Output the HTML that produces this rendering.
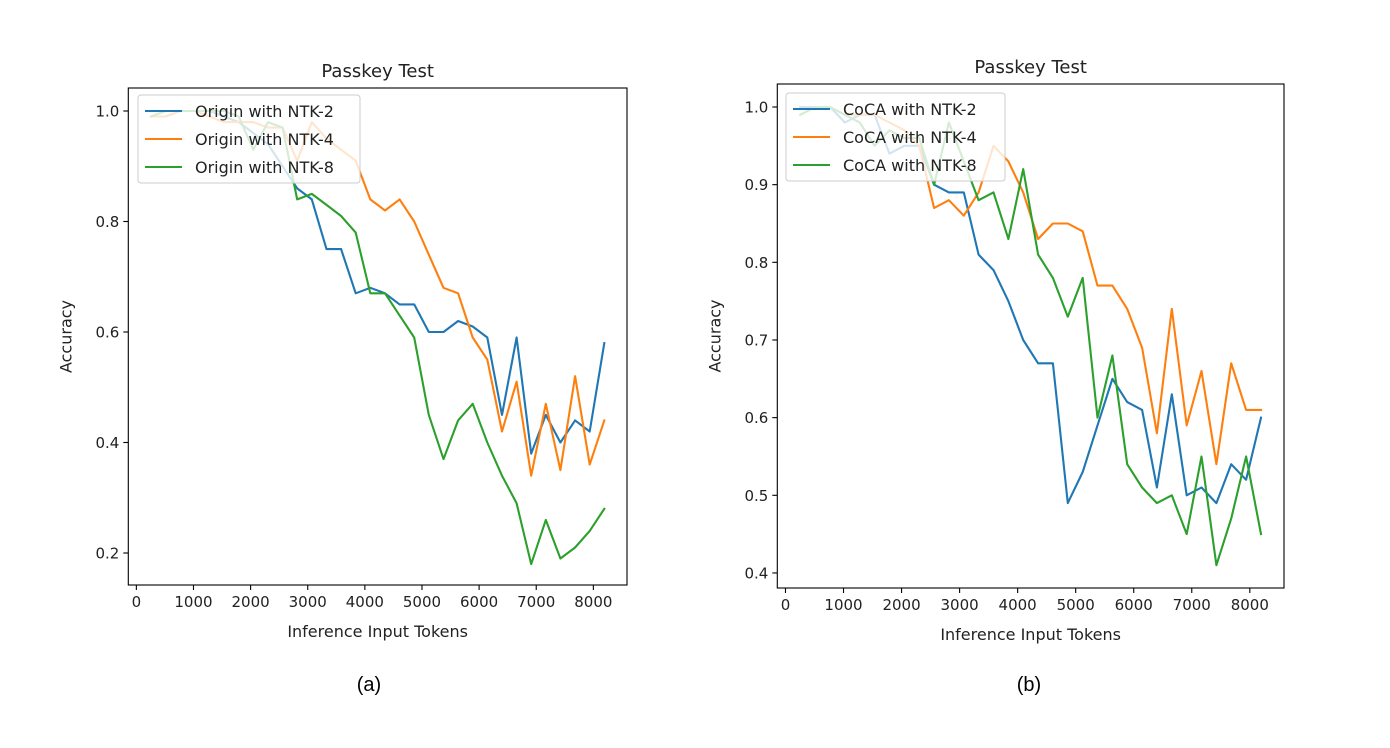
<!DOCTYPE html>
<html><head><meta charset="utf-8"><style>
html,body{margin:0;padding:0;background:#fff;}
svg{display:block;font-family:"DejaVu Sans","Liberation Sans",sans-serif;}
</style></head><body>
<svg id="fig" width="1390" height="748" viewBox="0 0 1390 748" xmlns="http://www.w3.org/2000/svg">
<rect width="1390" height="748" fill="#fff"/>
<text x="369" y="691" font-family="Liberation Sans, sans-serif" font-size="20" text-anchor="middle">(a)</text>
<text x="1029" y="691" font-family="Liberation Sans, sans-serif" font-size="20" text-anchor="middle">(b)</text>
</svg>
<script>
const tokens = [];
for (let k = 1; k <= 32; k++) tokens.push(256 * k);

const originNTK2 = [0.99,0.99,1.0,1.0,1.0,0.99,0.98,0.96,0.94,0.90,0.86,0.84,0.75,0.75,0.67,0.68,0.67,0.65,0.65,0.60,0.60,0.62,0.61,0.59,0.45,0.59,0.38,0.45,0.40,0.44,0.42,0.58];
const originNTK4 = [0.99,0.99,1.0,1.0,0.99,0.98,0.98,0.98,0.97,0.97,0.91,0.98,0.95,0.93,0.91,0.84,0.82,0.84,0.80,0.74,0.68,0.67,0.59,0.55,0.42,0.51,0.34,0.47,0.35,0.52,0.36,0.44];
const originNTK8 = [0.99,1.0,1.0,1.0,1.0,1.0,0.99,0.93,0.98,0.97,0.84,0.85,0.83,0.81,0.78,0.67,0.67,0.63,0.59,0.45,0.37,0.44,0.47,0.40,0.34,0.29,0.18,0.26,0.19,0.21,0.24,0.28];

const cocaNTK2 = [1.0,1.0,1.0,0.98,0.99,0.99,0.94,0.95,0.95,0.90,0.89,0.89,0.81,0.79,0.75,0.70,0.67,0.67,0.49,0.53,0.59,0.65,0.62,0.61,0.51,0.63,0.50,0.51,0.49,0.54,0.52,0.60];
const cocaNTK4 = [0.99,1.0,1.0,0.99,0.99,0.99,0.98,0.97,0.95,0.87,0.88,0.86,0.89,0.95,0.93,0.89,0.83,0.85,0.85,0.84,0.77,0.77,0.74,0.69,0.58,0.74,0.59,0.66,0.54,0.67,0.61,0.61];
const cocaNTK8 = [0.99,1.0,1.0,0.99,0.98,0.95,0.97,0.96,0.96,0.90,0.98,0.93,0.88,0.89,0.83,0.92,0.81,0.78,0.73,0.78,0.60,0.68,0.54,0.51,0.49,0.50,0.45,0.55,0.41,0.47,0.55,0.45];

const xTicks = [0,1000,2000,3000,4000,5000,6000,7000,8000];
const yTicksA = [0.2,0.4,0.6,0.8,1.0];
const yTicksB = [0.4,0.5,0.6,0.7,0.8,0.9,1.0];
const colors = ["#1f77b4","#ff7f0e","#2ca02c"];

const NS = "http://www.w3.org/2000/svg";
const fig = document.getElementById("fig");
function mk(tag, attrs, parent) {
  const e = document.createElementNS(NS, tag);
  for (const k in attrs) e.setAttribute(k, attrs[k]);
  (parent || fig).appendChild(e);
  return e;
}

function drawPanel(cfg) {
  const g = mk("g", {});
  
  
  const xs = v => cfg.left + (v - cfg.xmin) / (cfg.xmax - cfg.xmin) * (cfg.right - cfg.left);
  const ys = v => cfg.bottom - (v - cfg.ymin) / (cfg.ymax - cfg.ymin) * (cfg.bottom - cfg.top);

  // series
  cfg.series.forEach((s, i) => {
    const pts = tokens.map((t, j) => xs(t).toFixed(1) + "," + ys(s.values[j]).toFixed(1)).join(" ");
    const pl = mk("polyline", {points: pts, fill: "none", stroke: colors[i], "stroke-width": 2.1, "stroke-linejoin": "round", "stroke-linecap": "square"}, g);
    
    
  });

  // axes frame
  const fr = mk("rect", {x: cfg.left, y: cfg.top, width: cfg.right - cfg.left, height: cfg.bottom - cfg.top, fill: "none", stroke: "#000", "stroke-width": 1.1}, g);
  
  

  // x ticks
  xTicks.forEach(t => {
    const x = xs(t);
    mk("line", {x1: x, x2: x, y1: cfg.bottom, y2: cfg.bottom + 5, stroke: "#000", "stroke-width": 1.1}, g);
    const tx = mk("text", {x: x, y: cfg.bottom + 22, "font-size": 15, "text-anchor": "middle", fill: "#222"}, g);
    tx.textContent = t;
    
    
  });
  // y ticks
  cfg.yTicks.forEach(t => {
    const y = ys(t);
    mk("line", {x1: cfg.left - 5, x2: cfg.left, y1: y, y2: y, stroke: "#000", "stroke-width": 1.1}, g);
    const tx = mk("text", {x: cfg.left - 9, y: y + 5.5, "font-size": 15, "text-anchor": "end", fill: "#222"}, g);
    tx.textContent = t.toFixed(1);
    
    
  });

  const title = mk("text", {x: (cfg.left + cfg.right) / 2, y: cfg.top - 11, "font-size": 18, "text-anchor": "middle", fill: "#222"}, g);
  title.textContent = "Passkey Test";
  
  

  const xl = mk("text", {x: (cfg.left + cfg.right) / 2, y: cfg.bottom + 52, "font-size": 16, "text-anchor": "middle", fill: "#222"}, g);
  xl.textContent = "Inference Input Tokens";
  
  

  const ycx = cfg.left - 57, ycy = (cfg.top + cfg.bottom) / 2;
  const yl = mk("text", {x: ycx, y: ycy, "font-size": 16, "text-anchor": "middle", fill: "#222", transform: "rotate(-90 " + ycx + " " + ycy + ")"}, g);
  yl.textContent = "Accuracy";
  
  

  // legend
  const lg = mk("g", {}, g);
  
  
  mk("rect", {x: cfg.lx, y: cfg.ly, width: cfg.lw, height: 88, rx: 3, fill: "#fff", "fill-opacity": 0.8, stroke: "#ccc", "stroke-width": 1}, lg);
  cfg.series.forEach((s, i) => {
    const yy = cfg.ly + 16 + i * 28;
    const ent = mk("g", {}, lg);
    
    
    mk("line", {x1: cfg.lx + 7, x2: cfg.lx + 44, y1: yy, y2: yy, stroke: colors[i], "stroke-width": 2.1}, ent);
    const tx = mk("text", {x: cfg.lx + 57, y: yy + 6, "font-size": 16, fill: "#222"}, ent);
    tx.textContent = s.label;
  });
}

drawPanel({
  name: "chart-a", left: 128.3, right: 627, top: 88, bottom: 585,
  xmin: -141, xmax: 8589, ymin: 1.0 - (585 - 111) / 552.5, ymax: 1.0 + (111 - 88) / 552.5,
  yTicks: yTicksA, lx: 138, ly: 95, lw: 222,
  series: [
    {id: "origin-ntk-2", label: "Origin with NTK-2", values: originNTK2},
    {id: "origin-ntk-4", label: "Origin with NTK-4", values: originNTK4},
    {id: "origin-ntk-8", label: "Origin with NTK-8", values: originNTK8}
  ]
});
drawPanel({
  name: "chart-b", left: 777.3, right: 1284, top: 84, bottom: 588,
  xmin: -141, xmax: 8589, ymin: 1.0 - (588 - 107) / 776.6, ymax: 1.0 + (107 - 84) / 776.6,
  yTicks: yTicksB, lx: 786, ly: 93, lw: 219,
  series: [
    {id: "coca-ntk-2", label: "CoCA with NTK-2", values: cocaNTK2},
    {id: "coca-ntk-4", label: "CoCA with NTK-4", values: cocaNTK4},
    {id: "coca-ntk-8", label: "CoCA with NTK-8", values: cocaNTK8}
  ]
});
</script>
</body></html>
